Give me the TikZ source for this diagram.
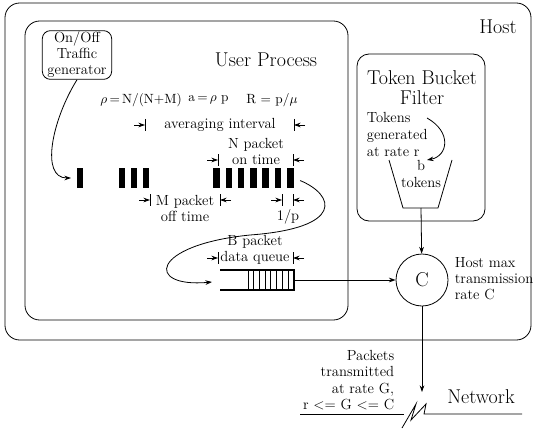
\documentclass[tikz,border=0pt]{standalone}
\usepackage{tikz}
\usetikzlibrary{positioning,arrows.meta}

\tikzset{
	small/.style={font=\fontsize{11}{12}\selectfont},
	big/.style={font=\fontsize{15}{15}\selectfont},
	pkt/.style={fill=black, minimum width=4.9pt, minimum height=15pt, inner sep=0pt},
}

\begin{document}
\begin{tikzpicture}[x=0.75pt, y=-0.75pt, line width=0.6pt, >={Stealth[length=5pt,width=3.5pt]}]
	\useasboundingbox (0,0) rectangle (534,431);
	% boxes
	\draw[rounded corners=11pt] (5,3) rectangle (531,340);
	\draw[rounded corners=11pt] (25,21) rectangle (348,320);
	\draw[rounded corners=9pt] (357,54) rectangle (485,221);
	\node[big] (host) at (498,27) {Host};
	\node[big] (user) at (266,60) {User Process};
	\node[big, align=center] (tbf) at (422,88) {Token Bucket\\Filter};
	\node[small, draw, rounded corners=6pt, align=center, inner sep=1pt, minimum width=52pt, minimum height=34.5pt] (gen) at (77,55) {On/Off\\Traffic\\generator};

	% formulas and intervals
	\node[font=\fontsize{10}{12}\selectfont, anchor=west, inner sep=0pt] (rho) at (100,100) {$\rho$\,=\,N/(N+M)};
	\node[font=\fontsize{10}{12}\selectfont, anchor=west, inner sep=0pt] (arate) at (188,100) {a\,=\,$\rho$ p};
	\node[font=\fontsize{10}{12}\selectfont, anchor=west, inner sep=0pt] (rrate) at (246,100) {R = p/$\mu$};
	\node[small] (avg) at (220,125) {averaging interval};
	\node[small, align=center] (non) at (256,151) {N packet\\on time};
	\node[small, align=center] (moff) at (185,208) {M packet\\off time};
	\node[small] (inv) at (288,217) {1/p};
	\node[small, align=center] (bq) at (255,250) {B packet\\data queue};
	\foreach \x/\y in {145/125, 218/160, 150/200, 282/200, 218/258} {
		\draw[->] (\x-11,\y) -- (\x,\y);
		\draw (\x,\y-6) -- (\x,\y+6);
	}
	\foreach \x/\y in {294/125, 293/160, 220/200, 293/200, 293/258} {
		\draw[->] (\x+11,\y) -- (\x,\y);
		\draw (\x,\y-6) -- (\x,\y+6);
	}

	% packets
	\node[pkt] (p1) at (80,178) {};
	\foreach \i/\x in {1/122, 2/134, 3/146}
		\node[pkt] (q\i) at (\x,178) {};
	\foreach \i in {1,...,7}
		\node[pkt] (r\i) at (216.5+\i*12.3-12.3,178) {};

	% queue
	\draw[line width=2.2pt] (220,270) -- (294,270) -- (294,290) -- (220,290);
	\foreach \i in {0,...,7}
		\draw (248+\i*5.7,270) -- (248+\i*5.7,290);
	\coordinate (qin) at (220,282);
	\coordinate (qout) at (295,280);

	% token bucket
	\node[small, align=left, anchor=west, font=\fontsize{11}{12.75}\selectfont] (tok) at (362,134) {Tokens\\generated\\at rate r};
	\node[small, align=center, font=\fontsize{11}{12.75}\selectfont] (bt) at (421,174) {b\\tokens};
	\draw (389,160) -- (403,208) -- (438,208) -- (452,160);
	\coordinate (tk) at (427,118);
	\coordinate (tkend) at (427,160);
	\coordinate (bkt) at (421,208);

	% transmission
	\node[draw, circle, minimum size=39pt, inner sep=0pt, big] (C) at (422,280) {C};
	\node[small, align=left, anchor=west] (hmax) at (450,279) {Host max\\transmission\\rate C};
	\node[small, align=right, anchor=east, font=\fontsize{11}{12.2}\selectfont] (pkts) at (399,380) {Packets\\transmitted\\at rate G,\\r <= G <= C};
	\node[big] (net) at (481,397) {Network};
	\coordinate (netin) at (422,392);
	\draw (300,414) -- (404,414);
	\draw (402,428) -- (416,404) -- (411,420) -- (426,404) -- (424,414) -- (522,414);

	% connectors
	\draw[->, shorten >=4pt] (gen.south) .. controls (52,120) and (40,178) .. (p1.west);
	\draw[->, shorten <=5pt] (r7.east) .. controls (335,195) and (345,228) .. (250,235)
		.. controls (150,245) and (145,288) .. ([xshift=-6pt]qin);
	\draw[->] (tk) .. controls (452,132) and (448,156) .. (tkend);
	\draw[->] (bkt) -- (C);
	\draw[->] (qout) -- (C);
	\draw[->] (C) -- (netin);
\end{tikzpicture}
\end{document}
